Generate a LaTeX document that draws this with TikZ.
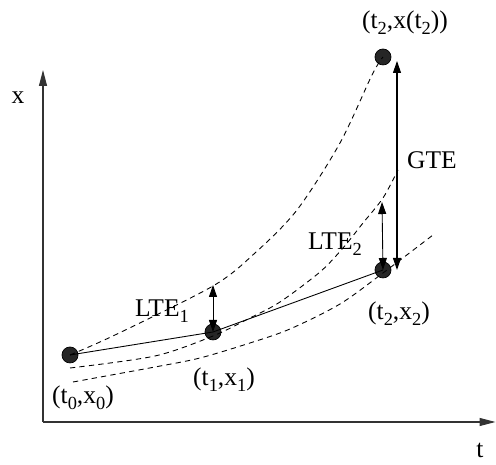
\documentclass[tikz,border=0pt]{standalone}
\usepackage{fontspec}
\setmainfont{Liberation Serif}
\usetikzlibrary{arrows.meta}
\newcommand{\lowsub}[1]{\raisebox{-0.5ex}{\fontsize{10.5}{12}\selectfont #1}}

\begin{document}
\begin{tikzpicture}[
  pt/.style={circle, draw, thin, fill=black!85, minimum size=0.32cm, inner sep=0pt},
  lbl/.style={font=\fontsize{14.5}{17}\selectfont, inner sep=1pt},
  sol/.style={dashed, dash pattern=on 3pt off 2.4pt, line width=0.5pt},
  err/.style={{Triangle[length=2.4mm,width=1.6mm]}-{Triangle[length=2.4mm,width=1.6mm]}, line width=0.5pt},
  axis/.style={-{Triangle[length=3.2mm,width=1.6mm]}, line width=0.6pt, black!80}
]
  \useasboundingbox (-0.86,-0.86) rectangle (9.06,8.44);

  % axes
  \coordinate (O) at (0,0);
  \coordinate (xend) at (0,7.04);
  \coordinate (tend) at (9.05,0);
  \draw[axis] (O) -- (xend);
  \draw[axis] (O) -- (tend);
  \node[lbl] (xl) at (-0.50,6.48) {x};
  \node[lbl] (tl) at (8.74,-0.56) {t};

  % points
  \node[pt] (p0) at (0.54,1.34) {};
  \node[pt] (p1) at (3.40,1.80) {};
  \node[pt] (p2) at (6.80,3.04) {};
  \node[pt] (pe) at (6.80,7.30) {};

  % solution curves
  \draw[sol] plot[smooth] coordinates {(p0.center) (1.44,1.74) (3.40,2.72) (4.24,3.38)
    (5.08,4.24) (5.94,5.58) (6.58,6.94) (pe.center)};
  \draw[sol] plot[smooth] coordinates {(0.54,1.08) (2.24,1.32) (3.40,1.72) (4.14,2.08)
    (4.74,2.40) (5.54,3.00) (6.00,3.48) (6.40,3.98) (6.80,4.48) (7.10,5.04)};
  \draw[sol] plot[smooth] coordinates {(0.60,0.80) (2.24,1.10) (3.14,1.28) (4.14,1.58)
    (4.94,1.86) (5.94,2.36) (6.80,2.98) (7.80,3.74)};

  % numerical steps
  \draw[line width=0.5pt] (p0.center) -- (p1.center) -- (p2.center);

  % errors
  \coordinate (e1) at (3.40,2.74);
  \coordinate (e2) at (6.78,4.40);
  \coordinate (g1) at (7.08,7.22);
  \coordinate (g2) at (7.08,3.04);
  \draw[err] (p1.center) -- (e1);
  \draw[err] (p2.center) -- (e2);
  \draw[err, line width=0.6pt] (g2) -- (g1);

  \node[lbl] (lte1) at (2.38,2.22) {LTE\lowsub{1}};
  \node[lbl] (lte2) at (5.84,3.56) {LTE\lowsub{2}};
  \node[lbl] (gte) at (7.78,5.24) {GTE};

  \node[lbl] (l0) at (0.80,0.48) {(t\lowsub{0},x\lowsub{0})};
  \node[lbl] (l1) at (3.62,0.84) {(t\lowsub{1},x\lowsub{1})};
  \node[lbl] (l2) at (7.12,2.16) {(t\lowsub{2},x\lowsub{2})};
  \node[lbl] (le) at (7.24,7.98) {(t\lowsub{2},x(t\lowsub{2}))};
\end{tikzpicture}
\end{document}
